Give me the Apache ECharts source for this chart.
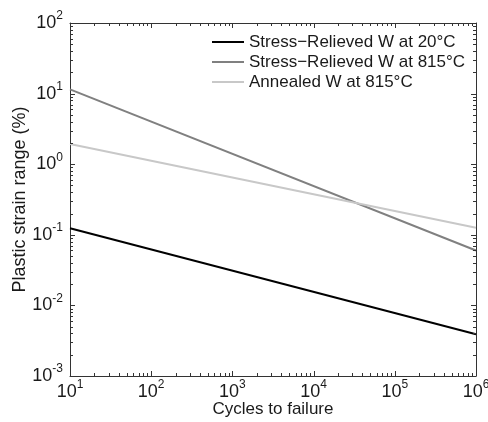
<!DOCTYPE html>
<html>
<head>
<meta charset="utf-8">
<script src="https://cdn.jsdelivr.net/npm/echarts@6/dist/echarts.min.js"></script>
<style>
  html, body { margin: 0; padding: 0; background: #fff; }
  #main { width: 488px; height: 422px; }
</style>
</head>
<body>
<div id="main"></div>
<script>
// data (log-log straight lines, end points only)
var cycles = [10, 1000000];
var srRoom = [0.124, 0.0039];
var srHot = [11.5, 0.06];
var annealedHot = [1.93, 0.126];
var seriesNames = ['Stress\u2212Relieved W at 20°C', 'Stress\u2212Relieved W at 815°C', 'Annealed W at 815°C'];
var seriesColors = ['#000000', '#808080', '#c8c8c8'];

// decade ticks of the axes
var xDecades = [10, 100, 1000, 10000, 100000, 1000000];
var yDecades = [0.001, 0.01, 0.1, 1, 10, 100];
var xMin = xDecades[0], xMax = xDecades[xDecades.length - 1];
var yMin = yDecades[0], yMax = yDecades[yDecades.length - 1];

// tick list: decades long, 2..9 x 10^d short
function tickList(decades) {
    var out = [];
    for (var i = 0; i < decades.length; i++) {
        out.push({ v: decades[i], len: 5 });
        if (i < decades.length - 1) {
            for (var k = 2; k <= 9; k++) out.push({ v: decades[i] * k, len: 3 });
        }
    }
    return out;
}
var xTicks = tickList(xDecades);
var yTicks = tickList(yDecades);

function pairs(xs, ys) {
    return xs.map(function (x, i) { return [x, ys[i]]; });
}

var font = 'Liberation Sans, Arial, sans-serif';
var txt = '#1a1a1a';
var boxColor = '#333';

function powLabel(v) {
    var e = Math.round(Math.log(v) / Math.LN10);
    return '{b|10}{s|' + e + '}';
}
var richSup = {
    b: { fontSize: 18, fontFamily: font, color: txt, lineHeight: 26, verticalAlign: 'middle' },
    s: { fontSize: 12, fontFamily: font, color: txt, lineHeight: 14, verticalAlign: 'top' }
};

function logAxis(dim, pos, withLabel, extra) {
    var a = {
        type: 'log',
        position: pos,
        min: dim === 'x' ? xMin : yMin,
        max: dim === 'x' ? xMax : yMax,
        axisLine: { show: true, onZero: false, lineStyle: { color: boxColor, width: 1 } },
        axisTick: { show: false },
        axisLabel: withLabel ? {
            show: true, formatter: powLabel, rich: richSup,
            margin: dim === 'x' ? 3 : 7
        } : { show: false },
        splitLine: { show: false }
    };
    for (var k in extra) a[k] = extra[k];
    return a;
}

function tickLine(x1, y1, x2, y2) {
    return {
        type: 'line',
        shape: { x1: x1, y1: y1, x2: x2, y2: y2 },
        style: { stroke: boxColor, lineWidth: 1 }
    };
}

// inward ticks on all four sides, placed through the log axes
var xTickSeries = {
    type: 'custom', silent: true, clip: false, z: 5,
    data: xTicks.map(function (t) { return [t.v, yMin, t.len]; }),
    renderItem: function (params, api) {
        var len = api.value(2);
        var b = api.coord([api.value(0), yMin]);
        var t = api.coord([api.value(0), yMax]);
        var x = Math.round(b[0]) + 0.5;
        return { type: 'group', children: [
            tickLine(x, b[1], x, b[1] - len),
            tickLine(x, t[1], x, t[1] + len)
        ] };
    }
};
var yTickSeries = {
    type: 'custom', silent: true, clip: false, z: 5,
    data: yTicks.map(function (t) { return [xMin, t.v, t.len]; }),
    renderItem: function (params, api) {
        var len = api.value(2);
        var l = api.coord([xMin, api.value(1)]);
        var r = api.coord([xMax, api.value(1)]);
        var y = Math.round(l[1]) + 0.5;
        return { type: 'group', children: [
            tickLine(l[0], y, l[0] + len, y),
            tickLine(r[0], y, r[0] - len, y)
        ] };
    }
};

var chart = echarts.init(document.getElementById('main'));

chart.setOption({
    animation: false,
    backgroundColor: '#fff',
    grid: { left: 70, right: 12, top: 23, bottom: 46, outerBoundsMode: 'none' },
    legend: {
        orient: 'vertical',
        left: 212,
        top: 32,
        padding: 0,
        icon: 'rect',
        itemWidth: 32,
        itemHeight: 2,
        itemGap: 0,
        textStyle: { fontSize: 17, fontFamily: font, color: txt, lineHeight: 20 },
        data: seriesNames
    },
    xAxis: [
        logAxis('x', 'bottom', true, {
            name: 'Cycles to failure', nameLocation: 'middle', nameGap: 25, nameMoveOverlap: false,
            nameTextStyle: { fontSize: 17, fontFamily: font, color: txt }
        }),
        logAxis('x', 'top', false, {})
    ],
    yAxis: [
        logAxis('y', 'left', true, {
            name: 'Plastic strain range (%)', nameLocation: 'middle', nameGap: 41, nameMoveOverlap: false,
            nameTextStyle: { fontSize: 18, fontFamily: font, color: txt }
        }),
        logAxis('y', 'right', false, {})
    ],
    series: seriesNames.map(function (name, i) {
        return {
            name: name, type: 'line', symbol: 'none',
            data: pairs(cycles, [srRoom, srHot, annealedHot][i]),
            lineStyle: { color: seriesColors[i], width: 2 },
            itemStyle: { color: seriesColors[i] }
        };
    }).concat([xTickSeries, yTickSeries])
});
</script>
</body>
</html>
